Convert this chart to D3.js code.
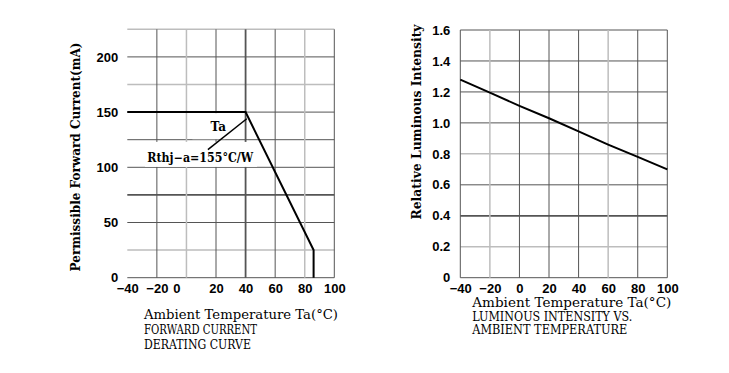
<!DOCTYPE html>
<html>
<head>
<meta charset="utf-8">
<script src="https://cdn.jsdelivr.net/npm/d3@7.9.0/dist/d3.min.js"></script>
<style>
  body { margin: 0; background: #fff; }
  svg { display: block; }
  .tick text { font-family: "Liberation Sans", Arial, sans-serif; font-weight: bold; font-size: 13px; fill: #000; }
  .lbl { font-family: "DejaVu Serif", serif; fill: #000; }
</style>
</head>
<body>
<div id="chart"></div>
<script>
// temperature axis shared by both panels
const tempTicks = [-40, -20, 0, 20, 40, 60, 80, 100];

// forward current derating curve
const derateTemp = [-40, 40, 86, 86];
const derateCurrent = [150, 150, 25, 0];
const currentTicks = [0, 50, 100, 150, 200];
const currentGrid = [0, 25, 50, 75, 100, 125, 150, 175, 200, 225];

// luminous intensity vs ambient temperature
const intensityTemp = [-40, -20, 0, 20, 40, 60, 80, 100];
const intensityValue = [1.28, 1.195, 1.11, 1.03, 0.945, 0.86, 0.78, 0.70];
const intensityTicks = [0, 0.2, 0.4, 0.6, 0.8, 1.0, 1.2, 1.4, 1.6];

const width = 729;
const height = 373;

const svg = d3.select('#chart')
  .append('svg')
  .attr('width', width)
  .attr('height', height);

function gridColor(light) {
  return light ? '#bdbdbd' : '#555';
}

function drawPanel(opt) {
  const g = svg.append('g');
  const x = d3.scaleLinear().domain([-40, 100]).range(opt.xRange);
  const y = d3.scaleLinear().domain(opt.yDomain).range(opt.yRange);

  // horizontal grid
  g.append('g')
    .selectAll('line')
    .data(opt.yGrid)
    .join('line')
    .attr('x1', x(-40))
    .attr('x2', x(100))
    .attr('y1', d => y(d))
    .attr('y2', d => y(d))
    .attr('stroke', d => gridColor(opt.lightY.includes(d)))
    .attr('stroke-width', d => opt.thickY.includes(d) ? 1.8 : (opt.lightY.includes(d) ? 1.5 : 1));

  // vertical grid
  g.append('g')
    .selectAll('line')
    .data(tempTicks.filter(d => opt.xGridSkip.indexOf(d) < 0))
    .join('line')
    .attr('x1', d => x(d))
    .attr('x2', d => x(d))
    .attr('y1', y(opt.yDomain[1]))
    .attr('y2', y(0))
    .attr('stroke', d => gridColor(opt.lightX.includes(d)))
    .attr('stroke-width', d => opt.thickX.includes(d) ? 1.8 : (opt.lightX.includes(d) ? 1.5 : 1));

  // axes (labels only)
  const xAxis = g.append('g')
    .attr('transform', `translate(0,${y(0)})`)
    .call(d3.axisBottom(x).tickValues(tempTicks).tickSize(0).tickPadding(6));
  xAxis.select('.domain').remove();
  if (opt.zeroShift) {
    xAxis.selectAll('.tick text').filter(d => d === 0).attr('dx', opt.zeroShift);
  }

  const yAxis = g.append('g')
    .attr('transform', `translate(${x(-40)},0)`)
    .call(d3.axisLeft(y).tickValues(opt.yTicks).tickSize(0).tickPadding(opt.yPad).tickFormat(opt.yFormat));
  yAxis.select('.domain').remove();

  // y title
  g.append('text')
    .attr('class', 'lbl')
    .attr('transform', `translate(${opt.yTitlePos[0]},${opt.yTitlePos[1]}) rotate(-90)`)
    .attr('text-anchor', 'middle')
    .attr('font-size', 12.5)
    .attr('font-weight', 'bold')
    .attr('textLength', opt.yTitleLen)
    .attr('lengthAdjust', 'spacingAndGlyphs')
    .text(opt.yTitle);

  // caption lines
  g.append('g')
    .selectAll('text')
    .data(opt.caption)
    .join('text')
    .attr('class', 'lbl')
    .attr('x', opt.captionPos[0])
    .attr('y', (d, i) => opt.captionPos[1] + i * opt.captionStep)
    .attr('font-size', 12)
    .attr('textLength', (d, i) => opt.captionLen[i])
    .attr('lengthAdjust', 'spacingAndGlyphs')
    .text(d => d);

  return { g, x, y };
}

// ---- left panel ----
const left = drawPanel({
  xRange: [127.3, 334.3],
  yDomain: [0, 225],
  yRange: [277.7, 29.3],
  yGrid: currentGrid,
  lightY: [25, 175, 225],
  thickY: [75],
  xGridSkip: [-40],
  lightX: [0, 80],
  thickX: [40],
  yTicks: currentTicks,
  yPad: 9,
  yFormat: d3.format('d'),
  zeroShift: -10,
  yTitle: 'Permissible Forward Current(mA)',
  yTitlePos: [80, 157],
  yTitleLen: 229,
  caption: ['Ambient Temperature Ta(°C)', 'FORWARD CURRENT', 'DERATING CURVE'],
  captionPos: [144, 319],
  captionStep: 15,
  captionLen: [194, 113, 107]
});

const derateLine = d3.line()
  .x((d, i) => left.x(derateTemp[i]))
  .y(d => left.y(d));

// white boxes behind the annotation texts
left.g.append('rect')
  .attr('x', left.x(4)).attr('y', left.y(149))
  .attr('width', 33).attr('height', 26)
  .attr('fill', '#fff');
left.g.append('rect')
  .attr('x', left.x(-28)).attr('y', left.y(123))
  .attr('width', 112).attr('height', 25)
  .attr('fill', '#fff');

left.g.append('path')
  .datum(derateCurrent)
  .attr('d', derateLine)
  .attr('fill', 'none')
  .attr('stroke', '#000')
  .attr('stroke-width', 2);

left.g.append('line')
  .attr('x1', left.x(40.8)).attr('y1', left.y(144))
  .attr('x2', left.x(14.5)).attr('y2', left.y(116))
  .attr('stroke', '#000')
  .attr('stroke-width', 1.5);

left.g.append('text')
  .attr('class', 'lbl')
  .attr('x', left.x(21.5)).attr('y', left.y(133))
  .attr('text-anchor', 'middle')
  .attr('font-size', 12)
  .attr('font-weight', 'bold')
  .text('Ta');

left.g.append('text')
  .attr('class', 'lbl')
  .attr('x', left.x(-26.5)).attr('y', left.y(105))
  .attr('font-size', 12)
  .attr('font-weight', 'bold')
  .attr('textLength', 106)
  .attr('lengthAdjust', 'spacingAndGlyphs')
  .text('Rthj−a=155°C/W');

// ---- right panel ----
const right = drawPanel({
  xRange: [460.3, 667.3],
  yDomain: [0, 1.6],
  yRange: [277.7, 30],
  yGrid: intensityTicks,
  lightY: [0.8, 0.2],
  thickY: [0.4],
  xGridSkip: [],
  lightX: [-20, 60],
  thickX: [],
  yTicks: intensityTicks,
  yPad: 10,
  yFormat: d => d === 0 ? '0' : d3.format('.1f')(d),
  zeroShift: 0,
  yTitle: 'Relative Luminous Intensity',
  yTitlePos: [421, 122],
  yTitleLen: 195,
  caption: ['Ambient Temperature Ta(°C)', 'LUMINOUS INTENSITY VS.', 'AMBIENT TEMPERATURE'],
  captionPos: [472.3, 307],
  captionStep: 13.7,
  captionLen: [199, 160, 155]
});

const intensityLine = d3.line()
  .x((d, i) => right.x(intensityTemp[i]))
  .y(d => right.y(d));

right.g.append('path')
  .datum(intensityValue)
  .attr('d', intensityLine)
  .attr('fill', 'none')
  .attr('stroke', '#000')
  .attr('stroke-width', 2);
</script>
</body>
</html>
